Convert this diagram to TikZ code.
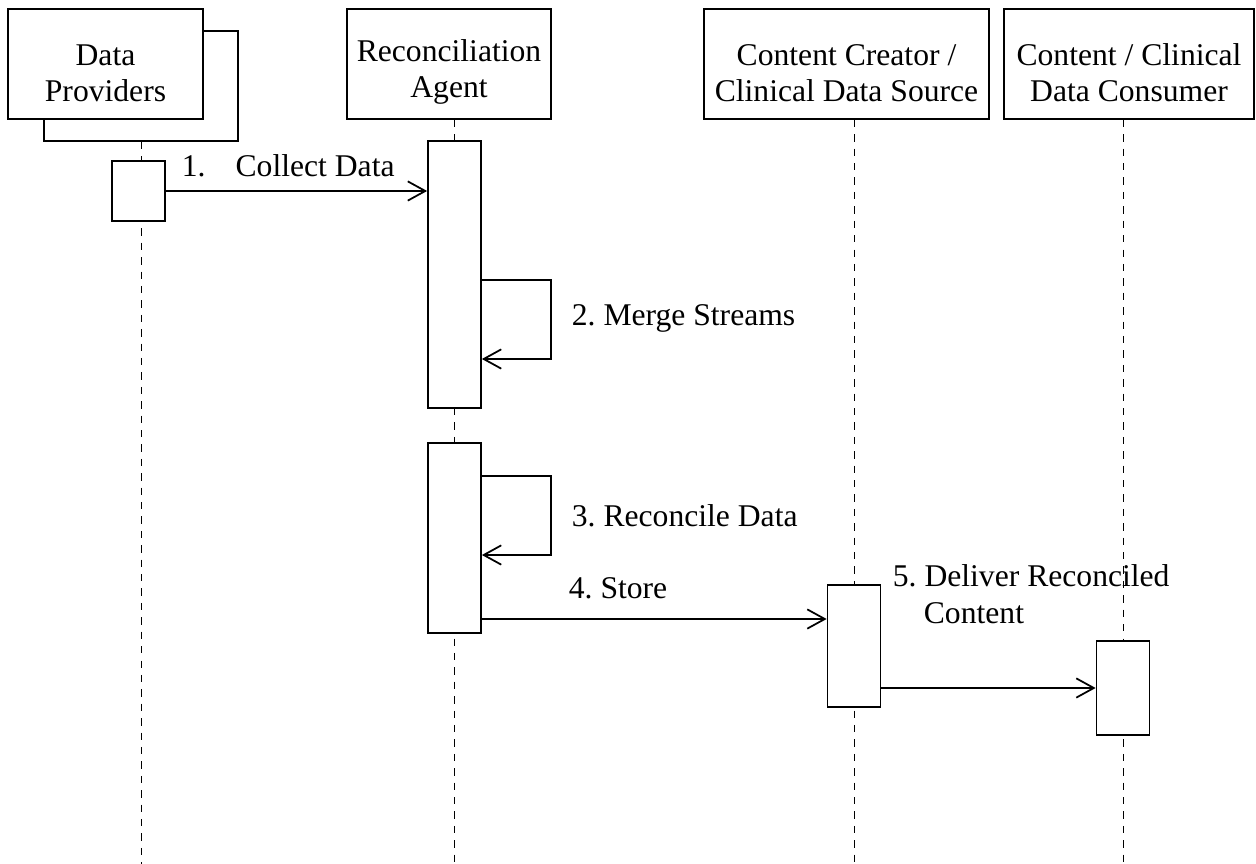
\documentclass[tikz,border=0pt]{standalone}
\usepackage{fontspec}
\setmainfont{Liberation Serif}
\usetikzlibrary{arrows.meta,positioning,backgrounds}
\frenchspacing
\newcommand{\hdstrut}{\rule{0pt}{22pt}}

\begin{document}
\begin{tikzpicture}[x=0.02cm,y=-0.02cm,line width=1pt,
        font=\fontsize{18}{20.5}\selectfont,
        head/.style={draw,fill=white,align=center,inner sep=0pt,minimum height=2.2cm},
        act/.style={draw,fill=white,inner sep=0pt,minimum width=1.06cm},
        msg/.style={-{Straight Barb[length=10pt,width=11pt]}},
        life/.style={dash pattern=on 4.2pt off 4pt},
        lbl/.style={anchor=base west,inner sep=0pt}]
    \useasboundingbox (0,0) rectangle (1256,864);

    % participants
    \node[head,minimum width=3.88cm] (dpback) at (141,86) {};
    \node[head,minimum width=3.9cm] (dp) at (105.5,64) {\hdstrut Data\\Providers};
    \node[head,minimum width=4.08cm] (ra) at (449,64) {\hdstrut Reconciliation\\Agent};
    \node[head,minimum width=5.7cm] (cc) at (846.5,64) {\hdstrut Content Creator /\\Clinical Data Source};
    \node[head,minimum width=5cm] (cons) at (1129,64) {\hdstrut Content / Clinical\\Data Consumer};

    % activations
    \node[act,minimum height=1.2cm] (a1) at (138.5,191) {};
    \node[act,minimum height=5.34cm] (a2) at (454.5,274.5) {};
    \node[act,minimum height=3.8cm] (a3) at (454.5,538) {};
    \node[act,minimum height=2.44cm] (a4) at (854,646) {};
    \node[act,minimum height=1.88cm] (a5) at (1123,688) {};

    \coordinate (bot) at (0,864);
    \begin{scope}[on background layer]
        \draw[life] (dpback.south) -- (dpback.south |- bot);
        \draw[life] (a2 |- ra.south) -- (a2 |- bot);
        \draw[life] (a4 |- cc.south) -- (a4 |- bot);
        \draw[life] (a5 |- cons.south) -- (a5 |- bot);
    \end{scope}

    % messages
    \coordinate (m2) at (551,280);
    \coordinate (m2e) at (551,359);
    \coordinate (m3) at (551,476);
    \coordinate (m3e) at (551,555);
    \coordinate (m4) at (0,619);

    \draw[msg] (a1.east) -- (a1.east -| a2.west);
    \draw[msg] (a2.east |- m2) -- (m2) -- (m2e) -- (a2.east |- m2e);
    \draw[msg] (a3.east |- m3) -- (m3) -- (m3e) -- (a3.east |- m3e);
    \draw[msg] (a3.east |- m4) -- (a4.west |- m4);
    \draw[msg] (a4.east |- a5) -- (a5.west);

    \node[lbl] (t1) at (181,177) {1.\hspace{0.95em}Collect Data};
    \node[lbl] (t2) at (571,326) {2. Merge Streams};
    \node[lbl] (t3) at (571,526) {3. Reconcile Data};
    \node[lbl] (t4) at (568,598) {4. Store};
    \node[lbl,align=left] (t5) at (892,623) {5. Deliver Reconciled\\\hspace{0.62cm}Content};
\end{tikzpicture}
\end{document}
